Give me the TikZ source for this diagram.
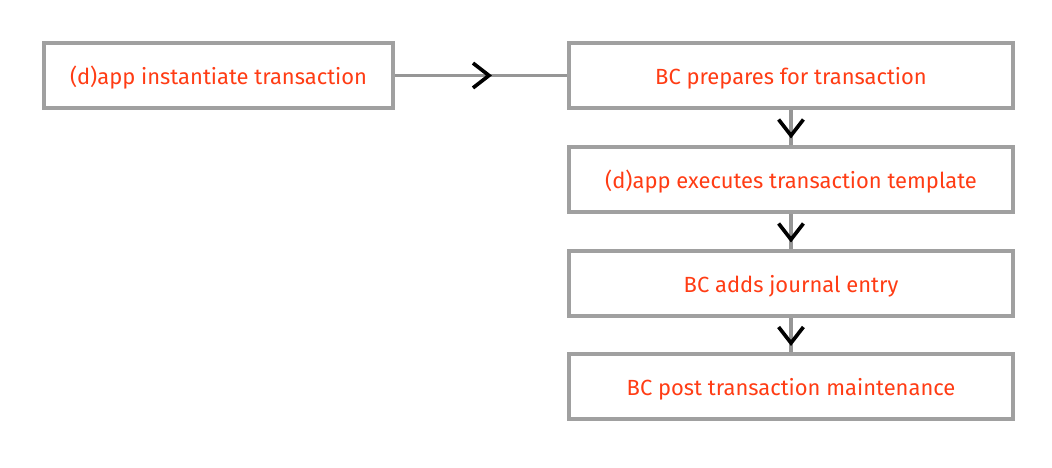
\documentclass[tikz,border=0pt]{standalone}
\usepackage{fontspec}
\setmainfont{Fira Sans}
\usepackage{tikz}
\usetikzlibrary{decorations.markings}
\definecolor{boxgray}{RGB}{160,160,160}
\definecolor{linegray}{RGB}{150,150,150}
\definecolor{txtred}{RGB}{255,60,20}
\newcommand{\stepfont}{\fontsize{15.6}{18}\selectfont}

\begin{document}
\begin{tikzpicture}[x=0.025cm,y=-0.025cm,
    stepbox/.style={draw=boxgray,line width=3.1pt,fill=white,
      minimum height=1.625cm,text height=0.425cm,text depth=0pt,
      text=txtred,font=\stepfont},
    smallbox/.style={stepbox,minimum width=8.725cm},
    widebox/.style={stepbox,minimum width=11.1cm},
    flow/.style={draw=linegray,line width=2.8pt,postaction={decorate},
      decoration={markings,mark=at position 0.5 with
        {\draw[black,line width=2.6pt,solid] (-0.2cm,-0.31cm) -- (0.2cm,0) -- (-0.2cm,0.31cm);}}}]
     \useasboundingbox (0,0) rectangle (1052,467);
     % boxes
     \node[smallbox] (inst) at (218.5,75.5) {(d)app instantiate transaction};
     \node[widebox] (prep) at (791,75.5) {BC prepares for transaction};
     \node[widebox] (exec) at (791,179.5) {(d)app executes transaction template};
     \node[widebox] (jour) at (791,283.5) {BC adds journal entry};
     \node[widebox] (post) at (791,386.5) {BC post transaction maintenance};
     % connectors
     \draw[flow] (inst.east) -- (prep.west);
     \draw[flow] (prep.south) -- (exec.north);
     \draw[flow] (exec.south) -- (jour.north);
     \draw[flow] (jour.south) -- (post.north);
\end{tikzpicture}
\end{document}
